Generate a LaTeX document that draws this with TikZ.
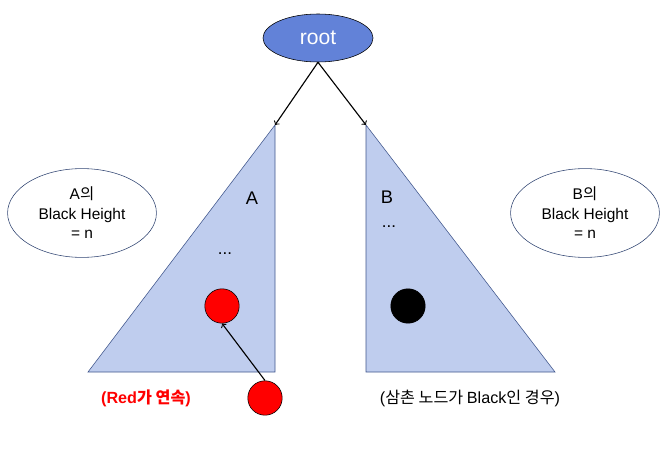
\documentclass[tikz,border=0pt]{standalone}
\usepackage{fontspec}
\setmainfont{Liberation Sans}
\newfontfamily\kr{Noto Sans CJK KR}
\usetikzlibrary{arrows,positioning,calc,shapes.geometric}
\definecolor{rootblue}{RGB}{98,130,216}
\definecolor{treefill}{RGB}{191,205,238}
\definecolor{treeline}{RGB}{64,86,140}
\definecolor{ovalline}{RGB}{50,70,115}

\begin{document}
\begin{tikzpicture}[x=0.025cm,y=-0.025cm,
  oval/.style={shape=ellipse,draw=ovalline,fill=white,minimum width=3.72cm,minimum height=2.22cm,
    inner sep=0pt,align=center,font=\fontsize{11}{13.8}\selectfont},
  rbnode/.style={shape=circle,draw,minimum size=0.86cm,inner sep=0pt}]
\useasboundingbox (0,0) rectangle (670,453);
% subtrees
\coordinate (At) at (275,125);
\coordinate (Bt) at (366,125);
\draw[treeline,fill=treefill] (At) -- (275,372) -- (88,372) -- cycle;
\draw[treeline,fill=treefill] (Bt) -- (366,372) -- (555,372) -- cycle;
\node (A) at (252,198) {\fontsize{13}{15}\selectfont A};
\node (B) at (387,197) {\fontsize{13}{15}\selectfont B};
\node (Ad) at (225,254) {\fontsize{12}{14}\selectfont ...};
\node (Bd) at (389,227) {\fontsize{12}{14}\selectfont ...};
% root
\node[shape=ellipse,draw,fill=rootblue,text=white,minimum width=2.75cm,minimum height=1.2cm,inner sep=0pt,
  font=\fontsize{15}{17}\selectfont] (root) at (318,38) {root};
\draw[arrows=->,thick] (root.south) -- (At);
\draw[arrows=->,thick] (root.south) -- (Bt);
% black heights
\node[oval] (HA) at (82,213) {A{\kr 의}\\Black Height\\= n};
\node[oval] (HB) at (585,213) {B{\kr 의}\\Black Height\\= n};
% nodes
\node[rbnode,fill=red] (R1) at (222,306) {};
\node[rbnode,fill=black] (K) at (408,306) {};
\node[rbnode,fill=red] (R2) at (265,398) {};
\draw[arrows=->,thick] (R2.north) -- (R1.south);
\node[red,font=\fontsize{11.5}{13}\selectfont\bfseries] (RR) at (146,398) {(Red{\kr 가 연속})};
\node[font=\fontsize{11.5}{13}\selectfont] (UB) at (470,398) {({\kr 삼촌 노드가 }Black{\kr 인 경우})};
\end{tikzpicture}
\end{document}
